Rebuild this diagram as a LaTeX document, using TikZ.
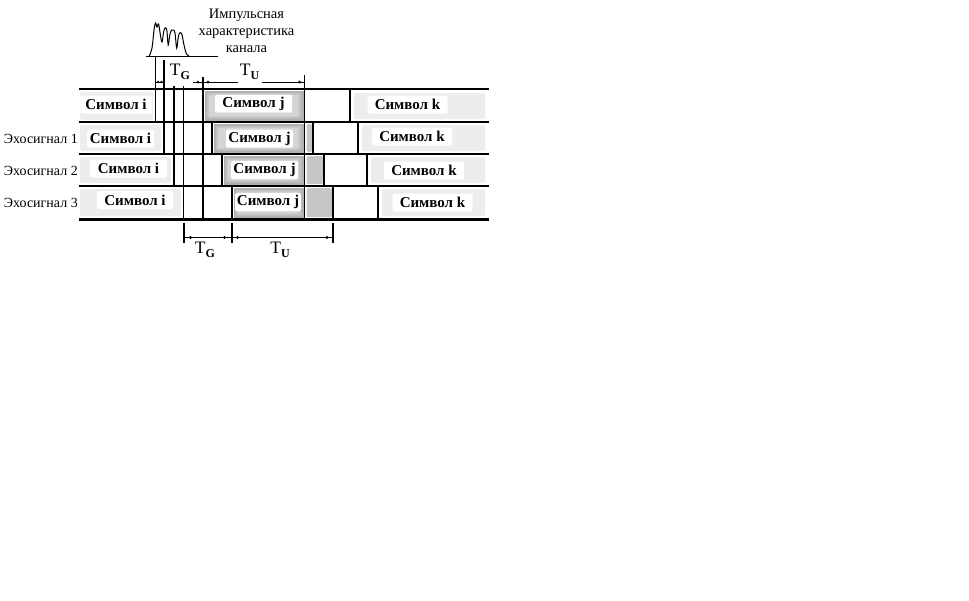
\documentclass[tikz,border=0pt]{standalone}
\usepackage{fontspec}
\setmainfont{Liberation Serif}
\newcommand{\jcellbox}[4]{%
  \fill[gray!62] (#1,#2) rectangle (#3,#4);
  \fill[gray!48, rounded corners=1.5pt] (#1+2,#2+2) rectangle (#3-2,#4-2);
  \fill[gray!33, rounded corners=1.5pt] (#1+4,#2+4) rectangle (#3-5,#4-4);
}
\newcommand{\tsub}[1]{{\fontsize{17.5}{17.5}\selectfont T}\raisebox{-4pt}{\fontsize{12}{12}\selectfont\bfseries #1}}
\begin{document}
\begin{tikzpicture}[x=1pt,y=-1pt,
  lbl/.style={fill=white, rounded corners=1.5pt, inner sep=0pt, minimum height=18pt,
    font=\fontsize{15}{15}\selectfont\bfseries},
  rowlbl/.style={anchor=east, inner sep=0pt, font=\fontsize{14}{14}\selectfont},
  lightcell/.style={fill=gray!14, rounded corners=2pt},
  grayblk/.style={fill=gray!45, rounded corners=1.5pt},
  vline/.style={line width=1.4pt},
  hline/.style={line width=1.5pt},
  dimline/.style={line width=0.9pt},
  dimtext/.style={inner sep=0pt},
  tip/.style={fill=black}
]
\useasboundingbox (0,0) rectangle (969,600);

% ---------- light cells (symbol i, symbol k) ----------
\fill[lightcell] (80,92) rectangle (153,120);
\fill[lightcell] (354,93) rectangle (485,119);
\fill[lightcell] (80,125) rectangle (161,151);
\fill[lightcell] (362,125) rectangle (485,151);
\fill[lightcell] (80,157) rectangle (171,183);
\fill[lightcell] (371,157) rectangle (485,183);
\fill[lightcell] (80,189) rectangle (181,216);
\fill[lightcell] (382,189) rectangle (485,216);

% ---------- dark cells (symbol j) ----------
\jcellbox{204.5}{90.5}{303.5}{120.5}
\jcellbox{213.5}{123.5}{303.5}{152.5}
\jcellbox{223.5}{155.5}{303.5}{184.5}
\jcellbox{233.5}{187.5}{303.5}{217.5}

% ---------- small gray blocks ----------
\fill[grayblk] (306.5,124) rectangle (312,152);
\fill[grayblk] (306.5,156) rectangle (323,184);
\fill[grayblk] (306.5,188) rectangle (332,217);

% ---------- labels ----------
\node[lbl, minimum width=72pt] (i1) at (116,104.5) {Символ i};
\node[lbl, minimum width=77pt] (j1) at (253.5,103.5) {Символ j};
\node[lbl, minimum width=80pt] (k1) at (407.5,104.5) {Символ k};
\node[lbl, minimum width=67pt] (i2) at (120.5,138.5) {Символ i};
\node[lbl, minimum width=67pt] (j2) at (259.5,138.5) {Символ j};
\node[lbl, minimum width=80pt] (k2) at (412,136.5) {Символ k};
\node[lbl, minimum width=77pt] (i3) at (128.5,168.5) {Символ i};
\node[lbl, minimum width=67pt] (j3) at (264.5,170) {Символ j};
\node[lbl, minimum width=80pt] (k3) at (424,170.5) {Символ k};
\node[lbl, minimum width=76pt] (i4) at (135,200) {Символ i};
\node[lbl, minimum width=66pt] (j4) at (268,202) {Символ j};
\node[lbl, minimum width=80pt] (k4) at (432.5,202.5) {Символ k};

\node[rowlbl] (e1) at (78,138.5) {Эхосигнал 1};
\node[rowlbl] (e2) at (78,170.5) {Эхосигнал 2};
\node[rowlbl] (e3) at (78,202.5) {Эхосигнал 3};

% ---------- horizontal lines ----------
\draw[line width=2.2pt] (79,89) -- (489,89);
\draw[hline] (79,122) -- (489,122);
\draw[hline] (79,154) -- (489,154);
\draw[hline] (79,186) -- (489,186);
\draw[line width=3pt] (79,219) -- (489,219);

% ---------- vertical lines ----------
\draw[vline] (155.5,57) -- (155.5,122);
\draw[vline] (164,60) -- (164,154);
\draw[vline] (174,86) -- (174,186);
\draw[vline] (183.5,86) -- (183.5,219);
\draw[vline] (203,77) -- (203,219);
\draw[vline] (212,122) -- (212,154);
\draw[vline] (222,154) -- (222,186);
\draw[vline] (232,186) -- (232,219);
\draw[vline] (304.5,75) -- (304.5,219);
\draw[vline] (313,122) -- (313,154);
\draw[vline] (324,154) -- (324,186);
\draw[vline] (333,186) -- (333,219);
\draw[vline] (350,89) -- (350,122);
\draw[vline] (358,122) -- (358,154);
\draw[vline] (367,154) -- (367,186);
\draw[vline] (378,186) -- (378,219);

% ---------- impulse response ----------
\draw[line width=1pt] (146,56.7) -- (218,56.7);
\draw[line width=1pt] plot[smooth, tension=0.6] coordinates {
  (149,56.5) (152,48) (154,30) (155.5,23) (157,27) (158.6,24) (160.4,35) (162,42)
  (163.6,32) (165,28) (166.8,30) (168.2,45) (169.8,35) (171.6,30) (173.4,30) (175,33)
  (176.7,48) (178.3,37) (179.8,33) (181.8,34) (183.8,44) (186.5,54) (190,56.5)};
\node[font=\fontsize{14.5}{17}\selectfont, align=center, inner sep=0pt] (title) at (246.5,31)
  {Импульсная\\характеристика\\канала};

% ---------- top dimension ----------
\draw[dimline] (155.5,82) -- (164,82);
\fill[tip] (158.3,82) circle (1.4pt);
\fill[tip] (161.5,82) circle (1.4pt);
\draw[dimline] (193,82) -- (203,82);
\fill[tip] (198,82) circle (1.5pt);
\draw[dimline] (203,82) -- (238,82);
\fill[tip] (208,82) circle (1.5pt);
\draw[dimline] (262,82) -- (304.5,82);
\fill[tip] (299.5,82) circle (1.5pt);
\node[dimtext] (tg1) at (180,71.5) {\tsub{G}};
\node[dimtext] (tu1) at (249.5,71.5) {\tsub{U}};

% ---------- bottom dimension ----------
\draw[vline] (184,223) -- (184,243);
\draw[vline] (232,223) -- (232,243);
\draw[vline] (333,223) -- (333,243);
\draw[line width=1.3pt] (184,237.5) -- (333,237.5);
\fill[tip] (190.5,237.5) circle (1.6pt);
\fill[tip] (224.5,237.5) circle (1.6pt);
\fill[tip] (237.5,237.5) circle (1.6pt);
\fill[tip] (327,237.5) circle (1.6pt);
\node[dimtext] (tg2) at (205,250) {\tsub{G}};
\node[dimtext] (tu2) at (280,250) {\tsub{U}};
\end{tikzpicture}
\end{document}
